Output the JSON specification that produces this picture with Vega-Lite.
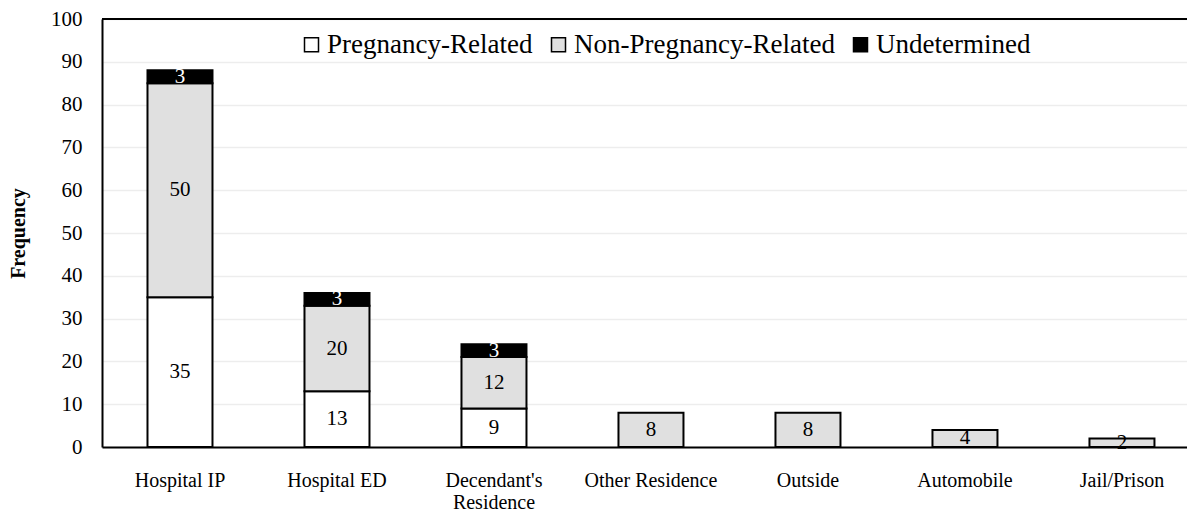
{
  "$schema": "https://vega.github.io/schema/vega-lite/v6.json",
  "width": 1085,
  "height": 428,
  "autosize": {"type": "none"},
  "padding": {"left": 102, "top": 19, "right": 0, "bottom": 63},
  "background": "white",
  "config": {
    "view": {"stroke": null},
    "font": "Liberation Serif",
    "text": {"font": "Liberation Serif"},
    "axis": {"labelFont": "Liberation Serif", "titleFont": "Liberation Serif", "labelColor": "black", "titleColor": "black"},
    "legend": {"labelFont": "Liberation Serif", "titleFont": "Liberation Serif"}
  },
  "data": {
    "values": [
      {"location": "Hospital IP", "status": "Pregnancy-Related", "seg": 1, "count": 35},
      {"location": "Hospital IP", "status": "Non-Pregnancy-Related", "seg": 2, "count": 50},
      {"location": "Hospital IP", "status": "Undetermined", "seg": 3, "count": 3},
      {"location": "Hospital ED", "status": "Pregnancy-Related", "seg": 1, "count": 13},
      {"location": "Hospital ED", "status": "Non-Pregnancy-Related", "seg": 2, "count": 20},
      {"location": "Hospital ED", "status": "Undetermined", "seg": 3, "count": 3},
      {"location": "Decendant's Residence", "status": "Pregnancy-Related", "seg": 1, "count": 9},
      {"location": "Decendant's Residence", "status": "Non-Pregnancy-Related", "seg": 2, "count": 12},
      {"location": "Decendant's Residence", "status": "Undetermined", "seg": 3, "count": 3},
      {"location": "Other Residence", "status": "Non-Pregnancy-Related", "seg": 2, "count": 8},
      {"location": "Outside", "status": "Non-Pregnancy-Related", "seg": 2, "count": 8},
      {"location": "Automobile", "status": "Non-Pregnancy-Related", "seg": 2, "count": 4},
      {"location": "Jail/Prison", "status": "Non-Pregnancy-Related", "seg": 2, "count": 2}
    ]
  },
  "transform": [
    {"stack": "count", "groupby": ["location"], "sort": [{"field": "seg", "order": "ascending"}], "as": ["y0", "y1"]}
  ],
  "encoding": {
    "x": {
      "field": "location",
      "type": "nominal",
      "sort": ["Hospital IP", "Hospital ED", "Decendant's Residence", "Other Residence", "Outside", "Automobile", "Jail/Prison"],
      "scale": {"paddingInner": 0.586, "paddingOuter": 0.2485, "align": 0.583},
      "axis": {
        "title": null,
        "labelAngle": 0,
        "ticks": false,
        "domainColor": "black",
        "domainWidth": 2,
        "labelFont": "Liberation Serif",
        "labelFontSize": 20,
        "labelPadding": 23,
        "labelLineHeight": 22,
        "labelLimit": 300,
        "labelExpr": "datum.label == \"Decendant's Residence\" ? [\"Decendant's\", \"Residence\"] : datum.label"
      }
    }
  },
  "layer": [
    {
      "mark": {"type": "bar", "stroke": "black", "strokeWidth": 2},
      "encoding": {
        "y": {
          "field": "y0",
          "type": "quantitative",
          "scale": {"domain": [0, 100], "nice": false},
          "axis": {
            "title": "Frequency",
            "titleFont": "Liberation Serif",
            "titleFontSize": 20,
            "titleFontWeight": "bold",
            "titlePadding": 22,
            "values": [0, 10, 20, 30, 40, 50, 60, 70, 80, 90, 100],
            "ticks": false,
            "domainColor": "black",
            "domainWidth": 2,
            "gridColor": "#ededed",
            "gridWidth": 1.5,
            "labelFont": "Liberation Serif",
            "labelFontSize": 21,
            "labelPadding": 20
          }
        },
        "y2": {"field": "y1"},
        "color": {
          "field": "status",
          "type": "nominal",
          "sort": ["Pregnancy-Related", "Non-Pregnancy-Related", "Undetermined"],
          "scale": {"domain": ["Pregnancy-Related", "Non-Pregnancy-Related", "Undetermined"], "range": ["#ffffff", "#e0e0e0", "#000000"]},
          "legend": {
            "title": null,
            "orient": "none",
            "legendX": 196,
            "legendY": 12,
            "direction": "horizontal",
            "symbolType": "square",
            "symbolSize": 196,
            "symbolStrokeColor": "black",
            "symbolStrokeWidth": 1.5,
            "symbolOpacity": 1,
            "labelFont": "Liberation Serif",
            "labelFontSize": 27,
            "labelColor": "black",
            "labelLimit": 500,
            "labelOffset": 2,
            "columnPadding": 12
          }
        }
      }
    },
    {
      "transform": [{"fold": ["y0", "y1"], "as": ["k", "v"]}],
      "mark": {"type": "text", "font": "Liberation Serif", "fontSize": 21, "baseline": "middle", "align": "center"},
      "encoding": {
        "y": {"aggregate": "mean", "field": "v", "type": "quantitative"},
        "text": {"field": "count", "type": "quantitative"},
        "detail": {"field": "status", "type": "nominal"},
        "color": {"condition": {"test": "datum.status == 'Undetermined'", "value": "white"}, "value": "black"}
      }
    },
    {
      "mark": {"type": "rule", "color": "black", "strokeWidth": 2},
      "encoding": {"y": {"datum": 100, "type": "quantitative"}, "x": null}
    }
  ]
}
